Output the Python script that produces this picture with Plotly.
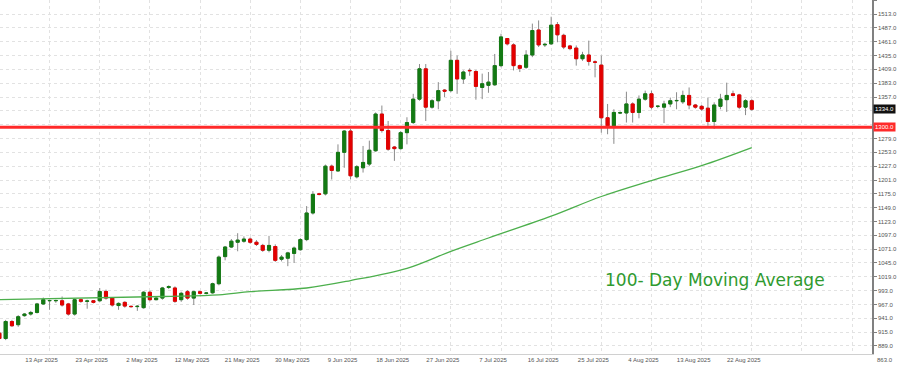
import plotly.graph_objects as go

# ---- data ----
opens = [913, 903, 935, 929, 946, 949, 952, 968, 974, 974,
         974, 968, 949, 976, 973, 974, 974, 991.5, 979, 965,
         971, 963.5, 963, 961, 990, 976, 979, 999, 998, 976,
         991, 979, 991, 988, 989, 1006, 1057, 1075, 1084, 1086,
         1090, 1084, 1078, 1069, 1076, 1052, 1054, 1063, 1070, 1089,
         1139, 1175, 1175, 1227, 1218, 1253, 1293, 1207, 1224, 1231,
         1256, 1325, 1294, 1263, 1260, 1290, 1309, 1353, 1410, 1338,
         1350, 1370, 1369, 1426, 1391, 1407, 1405, 1375, 1379, 1380,
         1416, 1467, 1455, 1416, 1413, 1436, 1483, 1455, 1457, 1493,
         1473, 1453, 1449, 1429, 1436, 1423, 1417, 1318, 1303, 1327,
         1327, 1344, 1328, 1353, 1363, 1339.5, 1338, 1344, 1350, 1348,
         1360, 1342, 1339.5, 1336, 1311, 1339.5, 1352, 1363, 1361, 1338,
         1350]
highs = [918, 938, 938, 947, 951, 955, 970, 980, 976, 976,
         982, 970, 978, 978, 976, 975, 998, 995, 981, 971,
         973, 965, 966, 992, 993, 981, 1000, 1003, 1001, 991,
         994, 993, 993, 990, 1008, 1059, 1077, 1090, 1101, 1095,
         1093, 1088, 1081, 1096, 1080, 1060, 1066, 1076, 1092, 1152,
         1180, 1177, 1230, 1230, 1268, 1295, 1297, 1229, 1265, 1275,
         1328, 1341, 1312, 1265, 1293, 1319, 1363, 1419, 1419, 1353,
         1385, 1372, 1444, 1435, 1407, 1411, 1408, 1401, 1404, 1438,
         1476, 1468, 1458, 1418, 1445, 1495, 1501, 1459, 1508, 1498,
         1476, 1455, 1454, 1442, 1463, 1426, 1435, 1344, 1334, 1330,
         1367, 1347, 1360, 1369, 1369, 1341, 1350, 1356, 1366, 1369,
         1375, 1344, 1342, 1356, 1347, 1363, 1384, 1369, 1363, 1353,
         1353]
lows = [900, 900, 925, 925, 944, 946, 950, 966, 957, 970,
        963, 946, 946, 970, 959, 969, 972, 976, 963, 957,
        961, 961, 955, 959, 973, 975, 976, 996, 970, 972,
        976, 966, 986, 986, 987, 1003, 1050, 1073, 1067, 1083,
        1081, 1077, 1066, 1065, 1047, 1048, 1039, 1045, 1068, 1086,
        1136, 1172, 1172, 1202, 1217, 1224, 1202, 1204, 1215, 1227,
        1254, 1290, 1256, 1237, 1258, 1268, 1306, 1350, 1312, 1335,
        1334, 1357, 1366, 1363, 1382, 1397, 1352, 1353, 1365, 1378,
        1413, 1454, 1407, 1404, 1410, 1432, 1451, 1451, 1455, 1460,
        1447, 1445, 1416, 1425, 1416, 1394, 1290, 1287, 1269, 1325,
        1309, 1309, 1317, 1350, 1334, 1336, 1308, 1338, 1334, 1344,
        1334, 1335, 1331, 1303, 1297, 1334, 1329, 1358, 1334, 1323,
        1331]
closes = [903, 935, 927, 944, 949, 952, 968, 976, 974.5, 974.5,
          966, 949, 976, 973, 973.5, 971, 991.5, 979, 966, 969,
          964, 963, 963.5, 990, 976, 979, 998, 1000.5, 973, 988,
          979, 991, 988, 988.5, 1006, 1056, 1075, 1086, 1088, 1090,
          1084, 1080, 1069, 1078, 1050, 1056, 1064, 1073, 1089, 1139,
          1174, 1174, 1227, 1219, 1253, 1293, 1209, 1226, 1234, 1257,
          1325, 1294, 1259, 1260, 1290, 1309, 1353, 1410, 1338, 1350,
          1369, 1368, 1426, 1391, 1404, 1406.5, 1377, 1382, 1385, 1416,
          1470, 1457, 1416, 1411, 1436, 1482, 1455, 1456, 1492, 1474,
          1451, 1448, 1429, 1436, 1424, 1422.5, 1318, 1303, 1328, 1327.5,
          1344, 1328, 1353, 1363, 1338, 1339.6, 1344, 1350, 1350.5, 1360,
          1342, 1338, 1334.5, 1311, 1342, 1353, 1360, 1360, 1338, 1350,
          1334]

# 100-day moving average, read at a few bar positions
ma_idx = [0, 26, 35, 40, 49, 56, 65, 72, 78, 88, 96, 104, 112, 120]
ma_val = [976, 982, 985, 991, 998, 1012, 1035, 1067, 1092, 1133, 1170, 1200, 1228, 1262]

support_level = 1300

x_tick_idx = [8, 16, 24, 32, 40, 48, 56, 64, 72, 80, 88, 96, 104, 112, 120, 128, 136]
x_tick_text = ["13 Apr 2025", "23 Apr 2025", "2 May 2025", "12 May 2025", "21 May 2025",
               "30 May 2025", "9 Jun 2025", "18 Jun 2025", "27 Jun 2025", "7 Jul 2025",
               "16 Jul 2025", "25 Jul 2025", "4 Aug 2025", "13 Aug 2025", "22 Aug 2025", "", ""]
y_ticks = [863 + 26 * k for k in range(27)]
y_range = [873.9, 1539.4]

# tick labels hidden behind the two price tags on the axis
tags = [support_level, closes[-1]]
y_tick_text = ["" if any(abs(v - t) < 9 for t in tags) else f"{v:.1f}" for v in y_ticks]

idx = list(range(len(closes)))
GREEN = "#137a13"
RED = "#e30000"
WICK = "#8a8a8a"

fig = go.Figure()

# full range (wicks) in grey
fig.add_trace(go.Candlestick(
    x=idx, open=opens, high=highs, low=lows, close=closes,
    increasing=dict(line=dict(color=WICK, width=1), fillcolor=WICK),
    decreasing=dict(line=dict(color=WICK, width=1), fillcolor=WICK),
    whiskerwidth=0, showlegend=False, hoverinfo="skip",
))

# coloured bodies on top (open/close range only)
body_hi = [max(o, c) for o, c in zip(opens, closes)]
body_lo = [min(o, c) for o, c in zip(opens, closes)]
fig.add_trace(go.Candlestick(
    x=idx, open=opens, high=body_hi, low=body_lo, close=closes,
    increasing=dict(line=dict(color=GREEN, width=1), fillcolor=GREEN),
    decreasing=dict(line=dict(color=RED, width=1), fillcolor=RED),
    whiskerwidth=0, showlegend=False, hoverinfo="skip",
))

# moving average
fig.add_trace(go.Scatter(
    x=ma_idx, y=ma_val, mode="lines", line_shape="spline",
    line=dict(color="#4caf4c", width=1.3, smoothing=1.0), showlegend=False, hoverinfo="skip",
))

# support line
fig.add_shape(type="line", xref="paper", x0=0, x1=1, yref="y",
              y0=support_level, y1=support_level,
              line=dict(color="#ff2a2a", width=3))

fig.add_annotation(xref="paper", x=1, yref="y", y=support_level, xanchor="left",
                   text=f"{support_level:.1f}", showarrow=False,
                   font=dict(family="Liberation Sans", size=6, color="white"),
                   bgcolor="#ff2a2a", borderpad=1, xshift=1)
fig.add_annotation(xref="paper", x=1, yref="y", y=closes[-1], xanchor="left",
                   text=f"{closes[-1]:.1f}", showarrow=False,
                   font=dict(family="Liberation Sans", size=6, color="white"),
                   bgcolor="#111111", borderpad=1, xshift=1)
# lowest price label sits just below the plotting area
fig.add_annotation(xref="paper", x=1, yref="paper",
                   y=(y_ticks[0] - y_range[0]) / (y_range[1] - y_range[0]),
                   xanchor="left", yanchor="middle",
                   text=f"{y_ticks[0]:.1f}", showarrow=False,
                   font=dict(family="Liberation Sans", size=6, color="#555555"),
                   xshift=3)

fig.add_annotation(xref="paper", x=0.82, xanchor="center", yref="paper", y=0.21,
                   yanchor="middle",
                   text="100- Day Moving Average", showarrow=False,
                   font=dict(family="DejaVu Sans", size=17, color="#2f9a2f"))

fig.update_layout(
    width=900, height=366,
    margin=dict(l=0, r=28, t=0, b=12),
    paper_bgcolor="white", plot_bgcolor="white",
    showlegend=False,
    font=dict(family="Liberation Sans", size=6, color="#555555"),
)
fig.update_xaxes(
    range=[0.096, 139.17], tickmode="array", tickvals=x_tick_idx, ticktext=x_tick_text,
    showgrid=True, gridcolor="#e2e2e2", griddash="dot", gridwidth=1,
    zeroline=False, showline=True, linecolor="#d0d0d0",
    ticks="", ticklabelshift=-8, rangeslider=dict(visible=False),
    tickfont=dict(family="Liberation Sans", size=6, color="#555555"),
)
fig.update_yaxes(
    side="right", range=y_range, tickmode="array", tickvals=y_ticks, ticktext=y_tick_text,
    showgrid=True, gridcolor="#e2e2e2", griddash="dot", gridwidth=1,
    zeroline=False, showline=True, linecolor="#808080", linewidth=1.5,
    ticks="outside", ticklen=3, tickcolor="#808080",
    tickfont=dict(family="Liberation Sans", size=6, color="#555555"),
)

fig.write_html("out.html", config={"displayModeBar": False},
               post_script="document.body.style.margin='0';document.body.style.overflow='hidden';")
